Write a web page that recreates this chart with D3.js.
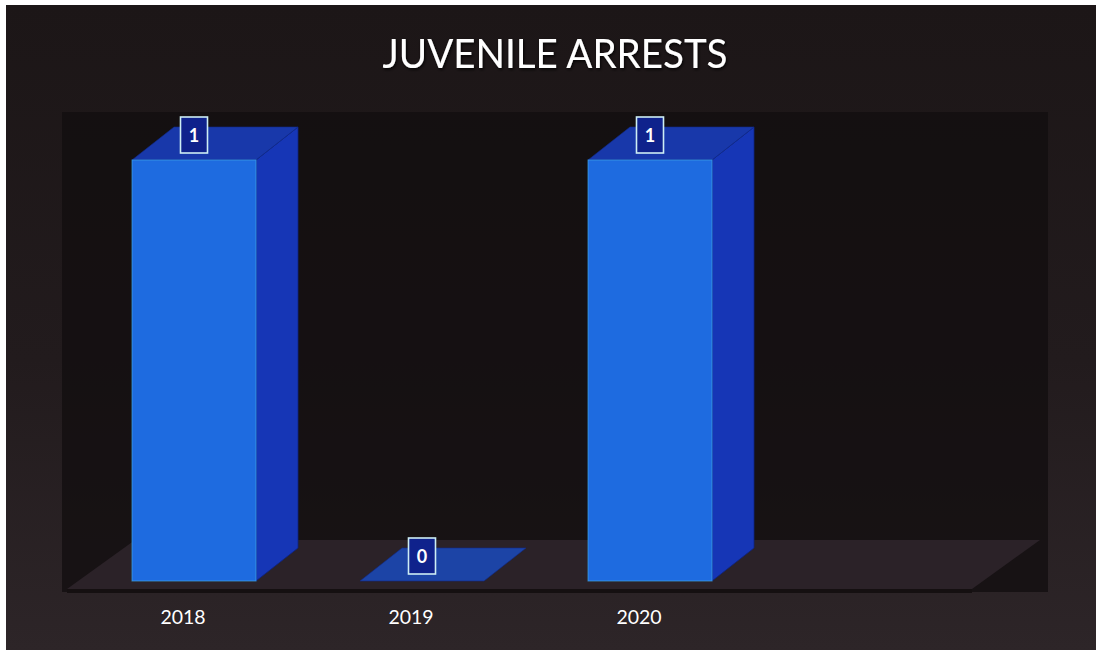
<!DOCTYPE html>
<html>
<head>
<meta charset="utf-8">
<script src="https://cdn.jsdelivr.net/npm/d3@7"></script>
<style>
  html, body { margin: 0; padding: 0; background: #ffffff; }
  svg { display: block; }
</style>
</head>
<body>
<svg id="chart" width="1096" height="650"></svg>
<script>
// Juvenile arrests per year
const categories = ["2018", "2019", "2020"];
const arrests = [1, 0, 1];
const title = "JUVENILE ARRESTS";
// the category axis reserves one more (unused) slot on the right
const slotLabels = [...categories, ""];

const W = 1096, H = 650;
const svg = d3.select("#chart");
const defs = svg.append("defs");

// page background: dark, slightly lighter toward the bottom
const bgGrad = defs.append("linearGradient")
  .attr("id", "bgGrad").attr("x1", 0).attr("y1", 0).attr("x2", 0).attr("y2", 1);
bgGrad.append("stop").attr("offset", "0%").attr("stop-color", "#1c1617");
bgGrad.append("stop").attr("offset", "55%").attr("stop-color", "#221b1d");
bgGrad.append("stop").attr("offset", "100%").attr("stop-color", "#2d2528");

const glow = defs.append("filter").attr("id", "titleShadow")
  .attr("x", "-10%").attr("y", "-30%").attr("width", "120%").attr("height", "160%");
glow.append("feDropShadow").attr("dx", 1).attr("dy", 1.5)
  .attr("stdDeviation", 1.5).attr("flood-color", "#000").attr("flood-opacity", 0.9);

svg.append("rect").attr("x", 6).attr("y", 5).attr("width", W - 6).attr("height", H - 5)
  .attr("fill", "url(#bgGrad)");

// plot area
const plot = { left: 62, top: 112, right: 1048, bottom: 592 };
svg.append("rect")
  .attr("x", plot.left).attr("y", plot.top)
  .attr("width", plot.right - plot.left).attr("height", plot.bottom - plot.top)
  .attr("fill", "#120d0f").attr("opacity", 0.75);

// scales
const x = d3.scaleBand().domain(slotLabels).range([69, 981]).padding(0);
const y = d3.scaleLinear().domain([0, 1]).range([581, 160]);

const barW = 124;          // front face width
const barShift = 11;       // front face offset from slot centre
const depth = { dx: 42, dy: -33 };     // bar depth projection
const floorDepth = { dx: 68, dy: -49 }; // floor depth projection

// floor (centred in depth around the bar bases)
const fy = y(0) + (-(floorDepth.dy - depth.dy)) / 2;   // front edge y
const floorLeft = 67, floorRight = 972;
const floorPts = [
  [floorLeft, fy], [floorRight, fy],
  [floorRight + floorDepth.dx, fy + floorDepth.dy],
  [floorLeft + floorDepth.dx, fy + floorDepth.dy]
];
svg.append("polygon")
  .attr("points", floorPts.map(p => p.join(",")).join(" "))
  .attr("fill", "#2b2228");
svg.append("rect")
  .attr("x", floorLeft).attr("y", fy).attr("width", floorRight - floorLeft).attr("height", 4)
  .attr("fill", "#151011");

// bars
const bars = svg.append("g").attr("class", "bars");
categories.forEach((c, i) => {
  const v = arrests[i];
  const cx = x(c) + x.bandwidth() / 2 + barShift;
  const x0 = cx - barW / 2, x1 = cx + barW / 2;
  const yt = y(v), yb = y(0);
  const g = bars.append("g");
  // side face
  if (yb > yt) {
    g.append("polygon")
      .attr("points", [[x1, yt], [x1 + depth.dx, yt + depth.dy], [x1 + depth.dx, yb + depth.dy], [x1, yb]]
        .map(p => p.join(",")).join(" "))
      .attr("fill", "#1636b6").attr("stroke", "#0e2380").attr("stroke-width", 0.8);
  }
  // top face
  g.append("polygon")
    .attr("points", [[x0, yt], [x1, yt], [x1 + depth.dx, yt + depth.dy], [x0 + depth.dx, yt + depth.dy]]
      .map(p => p.join(",")).join(" "))
    .attr("fill", v === 0 ? "#1c44a6" : "#1838aa")
    .attr("stroke", "#112a8a").attr("stroke-width", 0.6);
  // front face
  if (yb > yt) {
    g.append("rect")
      .attr("x", x0).attr("y", yt).attr("width", barW).attr("height", yb - yt)
      .attr("fill", "#1e6be0")
      .attr("stroke", "#3fa6e6").attr("stroke-width", 1).attr("stroke-opacity", 0.7);
  }
  // value label
  const ly = yt - 25;
  g.append("rect")
    .attr("x", cx - 13.5).attr("y", ly - 18).attr("width", 27).attr("height", 36)
    .attr("fill", "#0f228c").attr("stroke", "#cdeef4").attr("stroke-width", 1.6);
  g.append("text")
    .attr("x", cx).attr("y", ly + 6.5)
    .attr("text-anchor", "middle")
    .attr("font-family", "Lato, 'Open Sans', sans-serif")
    .attr("font-weight", "bold").attr("font-size", 18)
    .attr("fill", "#ffffff")
    .text(v);
});

// category axis
const axis = svg.append("g")
  .attr("transform", `translate(0, 606)`)
  .call(d3.axisBottom(x).tickSize(0).tickPadding(0));
axis.select(".domain").remove();
axis.selectAll("text")
  .attr("dy", "0")
  .attr("y", 18)
  .attr("fill", "#ffffff")
  .attr("font-family", "Lato, 'Open Sans', sans-serif")
  .attr("font-size", 19.5);

// title
svg.append("text")
  .attr("x", 555).attr("y", 68)
  .attr("text-anchor", "middle")
  .attr("font-family", "Lato, 'Open Sans', sans-serif")
  .attr("font-size", 40)
  .attr("textLength", 345).attr("lengthAdjust", "spacingAndGlyphs")
  .attr("fill", "#ffffff")
  .attr("filter", "url(#titleShadow)")
  .text(title);
</script>
</body>
</html>
